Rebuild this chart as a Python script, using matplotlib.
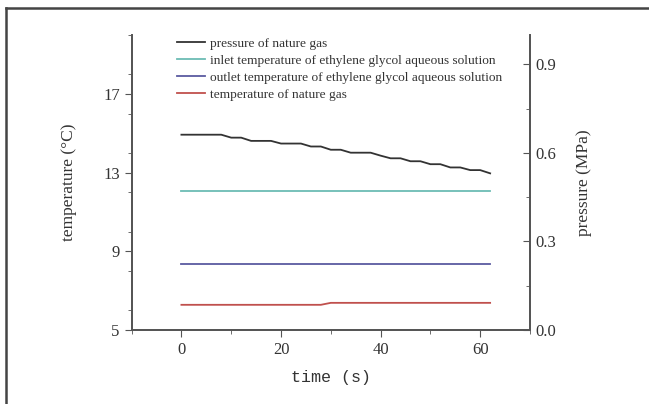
import matplotlib
matplotlib.use("Agg")
import matplotlib.pyplot as plt
from matplotlib.lines import Line2D
from matplotlib.ticker import MultipleLocator

# pressure of nature gas (MPa), right axis
time_p = [0, 8, 10, 12, 14, 18, 20, 24, 26, 28, 30, 32, 34, 38, 40, 42, 44, 46, 48, 50, 52, 54, 56, 58, 60, 62]
pressure = [0.662, 0.662, 0.652, 0.652, 0.641, 0.641, 0.632, 0.632, 0.622, 0.622, 0.611, 0.611, 0.601, 0.601,
            0.591, 0.582, 0.582, 0.572, 0.572, 0.562, 0.562, 0.551, 0.551, 0.542, 0.542, 0.531]

# temperatures (°C), left axis
time_t = [0, 62]
inlet_temp = [12.05, 12.05]
outlet_temp = [8.35, 8.35]
time_gas = [0, 28, 30, 62]
gas_temp = [6.28, 6.28, 6.38, 6.38]

labels = ["pressure of nature gas",
          "inlet temperature of ethylene glycol aqueous solution",
          "outlet temperature of ethylene glycol aqueous solution",
          "temperature of nature gas"]
colors = ["#333333", "#6cbcb4", "#5a5aa0", "#c0504d"]

serif = "Liberation Serif"

fig = plt.figure(figsize=(6.49, 4.04), dpi=100)
ax = fig.add_axes([0.2028, 0.1832, 0.6138, 0.7302])
ax2 = ax.twinx()

ax.plot(time_t, inlet_temp, color=colors[1], lw=1.3)
ax.plot(time_t, outlet_temp, color=colors[2], lw=1.3)
ax.plot(time_gas, gas_temp, color=colors[3], lw=1.3)
ax2.plot(time_p, pressure, color=colors[0], lw=1.3)

ax.set_xlim(-10, 70)
ax.set_ylim(5, 20)
ax2.set_ylim(0, 1.0)

ax.set_xticks([0, 20, 40, 60])
ax.xaxis.set_minor_locator(MultipleLocator(10))
ax.set_yticks([5, 9, 13, 17])
ax.yaxis.set_minor_locator(MultipleLocator(2))
ax2.set_yticks([0, 0.3, 0.6, 0.9])
ax2.set_yticklabels(["0.0", "0.3", "0.6", "0.9"])
ax2.yaxis.set_minor_locator(MultipleLocator(0.15))

spine_c = "#555555"
for a in (ax, ax2):
    for s in a.spines.values():
        s.set_color(spine_c)
        s.set_linewidth(1.3)
    a.spines["top"].set_visible(False)

ax.tick_params(axis="both", which="both", direction="out", color=spine_c, labelsize=12, labelcolor="#333333")
ax.tick_params(which="major", length=5)
ax.tick_params(which="minor", length=3)
ax2.tick_params(axis="y", which="both", direction="in", color=spine_c, labelsize=12, labelcolor="#333333", pad=4)
ax2.tick_params(which="major", length=5)
ax2.tick_params(which="minor", length=3)
for lab in ax.get_xticklabels() + ax.get_yticklabels() + ax2.get_yticklabels():
    lab.set_fontfamily(serif)

ax.set_xlabel("time (s)", fontsize=12, family="Liberation Mono", color="#333333", labelpad=9)
ax.set_ylabel("temperature (°C)", fontsize=12.5, family=serif, color="#333333", labelpad=19)
ax2.set_ylabel("pressure (MPa)", fontsize=12.5, family=serif, color="#333333", labelpad=14)

handles = [Line2D([0], [0], color=c, lw=1.3) for c in colors]
leg = ax.legend(handles, labels, loc="upper left", bbox_to_anchor=(0.1, 1.01), frameon=False,
                prop={"family": serif, "size": 9.6}, handlelength=2.1, handletextpad=0.38,
                labelspacing=0.36, borderaxespad=0)
for t in leg.get_texts():
    t.set_color("#333333")

# outer frame (top and left edges)
fig.add_artist(Line2D([6 / 649, 1], [1 - 8 / 404, 1 - 8 / 404], transform=fig.transFigure, color="#444444", lw=1.8))
fig.add_artist(Line2D([6 / 649, 6 / 649], [0, 1 - 8 / 404], transform=fig.transFigure, color="#444444", lw=1.8))

fig.savefig("out.png", dpi=100)
